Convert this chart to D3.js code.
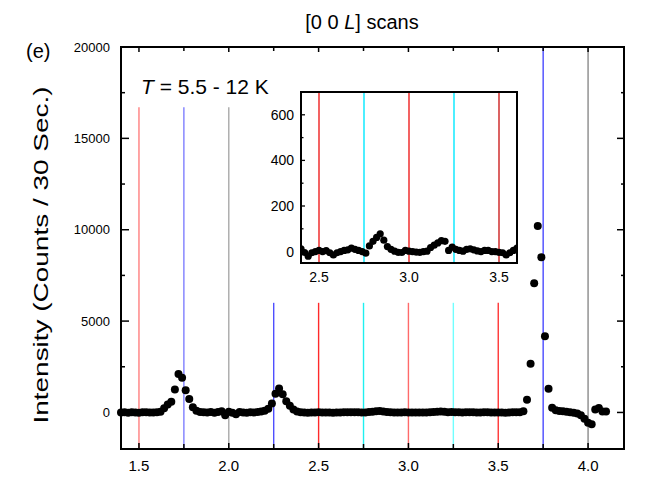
<!DOCTYPE html>
<html><head><meta charset="utf-8">
<script src="https://cdn.jsdelivr.net/npm/d3@7"></script>
<style>body{margin:0;background:#fff}svg{display:block}text{font-family:Arial,"Liberation Sans",sans-serif}</style>
</head><body><svg id="c" width="647" height="479"></svg>
<script>
// ---- data ----
const L = [1.40,1.42,1.44,1.46,1.48,1.50,1.52,1.54,1.56,1.58,1.60,1.62,1.64,1.66,1.68,1.70,1.72,1.74,1.76,1.78,
1.80,1.82,1.84,1.86,1.88,1.90,1.92,1.94,1.96,1.98,2.00,2.02,2.04,2.06,2.08,2.10,2.12,2.14,2.16,2.18,
2.20,2.22,2.24,2.26,2.28,2.30,2.32,2.34,2.36,2.38,2.40,2.42,2.44,2.46,2.48,2.50,2.52,2.54,2.56,2.58,
2.60,2.62,2.64,2.66,2.68,2.70,2.72,2.74,2.76,2.78,2.80,2.82,2.84,2.86,2.88,2.90,2.92,2.94,2.96,2.98,
3.00,3.02,3.04,3.06,3.08,3.10,3.12,3.14,3.16,3.18,3.20,3.22,3.24,3.26,3.28,3.30,3.32,3.34,3.36,3.38,
3.40,3.42,3.44,3.46,3.48,3.50,3.52,3.54,3.56,3.58,3.60,3.62,3.64,3.66,3.68,3.70,3.72,3.74,3.76,3.78,
3.80,3.82,3.84,3.86,3.88,3.90,3.92,3.94,3.96,3.98,4.00,4.02,4.04,4.06,4.08,4.10];
const counts = [0,15,-10,5,0,-10,5,10,-5,0,10,40,230,440,590,1250,2110,1900,1220,730,
280,90,30,10,0,20,-10,30,60,-150,40,-20,-100,20,0,-20,10,0,20,50,
100,200,490,1020,1310,1000,620,370,160,50,12,-4,-20,-5,0,5,0,4,-5,-15,
-5,0,5,8,15,10,5,0,-7,25,45,62,78,50,22,10,2,-3,-4,5,
2,0,-2,-3,0,2,18,28,38,48,45,5,20,10,5,2,10,12,8,3,
0,5,5,0,0,-3,-5,-15,-5,5,15,10,60,690,2670,7070,10200,8500,4170,1300,
260,120,80,60,40,10,-20,-60,-150,-350,-560,-650,160,250,50,50];

// reference lines (positions in L, top value in counts)
const refL   = [1.50, 1.75, 2.00, 2.25, 2.50, 2.75, 3.00, 3.25, 3.50, 3.75, 4.00];
const refTop = [16700,16700,16700,6000,6000,6000,6000,6000,6000,20000,20000];
const refKind = ["r1","b1","g1","b2","r2","c1","r3","c2","r4","b3","g2"];
const insetRefL = [2.50, 2.75, 3.00, 3.25, 3.50];
const insetRefKind = ["ir","ic","ir","ic","ir2"];

const xTicks = [1.5, 2.0, 2.5, 3.0, 3.5, 4.0];
const xMinor = [1.75, 2.25, 2.75, 3.25, 3.75];
const yTicks = [0, 5000, 10000, 15000, 20000];
const yMinor = [2500, 7500, 12500, 17500];
const insetXTicks = [2.5, 3.0, 3.5];
const insetYTicks = [0, 200, 400, 600];
const insetYMinor = [100, 300, 500, 700];

// ---- styles ----
const colorOf = {r1:"#ff7f7f", b1:"#7f7fff", g1:"#a9a9a9", b2:"#4f4fff", r2:"#ff2a2a", c1:"#1ef0f0",
  r3:"#ff6a6a", c2:"#70ffff", r4:"#ff3535", b3:"#4a4aff", g2:"#8a8a8a",
  ir:"#ee2020", ic:"#00e8ff", ir2:"#cc2020"};

const svg = d3.select("#c");
const M = {l:121, r:624, t:47, b:449};
const x = d3.scaleLinear().domain([1.4, 4.2]).range([M.l, M.r]);
const y = d3.scaleLinear().domain([-2000, 20000]).range([M.b, M.t]);

// reference lines
svg.append("g").selectAll("line").data(refL).join("line")
  .attr("x1", d=>x(d)).attr("x2", d=>x(d))
  .attr("y1", (d,i)=>y(refTop[i])).attr("y2", y(-2000))
  .attr("stroke", (d,i)=>colorOf[refKind[i]]).attr("stroke-width", 1.4);

// data
const pts = L.map((l,i)=>({l, c:counts[i]}));
svg.append("g").selectAll("circle").data(pts).join("circle")
  .attr("cx", d=>x(d.l)).attr("cy", d=>y(d.c)).attr("r", 4).attr("fill", "#000");

// axes (inward ticks)
const ax = svg.append("g").attr("stroke", "#000").attr("stroke-width", 1.5);
xTicks.forEach(t=>{ ax.append("line").attr("x1",x(t)).attr("x2",x(t)).attr("y1",M.b).attr("y2",M.b-6);
                    ax.append("line").attr("x1",x(t)).attr("x2",x(t)).attr("y1",M.t).attr("y2",M.t+5); });
xMinor.forEach(t=>{ ax.append("line").attr("x1",x(t)).attr("x2",x(t)).attr("y1",M.b).attr("y2",M.b-5);
                    ax.append("line").attr("x1",x(t)).attr("x2",x(t)).attr("y1",M.t).attr("y2",M.t+4); });
yTicks.forEach(t=>{ ax.append("line").attr("y1",y(t)).attr("y2",y(t)).attr("x1",M.l).attr("x2",M.l+8);
                    ax.append("line").attr("y1",y(t)).attr("y2",y(t)).attr("x1",M.r).attr("x2",M.r-7); });
yMinor.forEach(t=>{ ax.append("line").attr("y1",y(t)).attr("y2",y(t)).attr("x1",M.l).attr("x2",M.l+4);
                    ax.append("line").attr("y1",y(t)).attr("y2",y(t)).attr("x1",M.r).attr("x2",M.r-3); });
svg.append("rect").attr("x",M.l).attr("y",M.t).attr("width",M.r-M.l).attr("height",M.b-M.t)
  .attr("fill","none").attr("stroke","#000").attr("stroke-width",2);

svg.append("g").selectAll("text").data(xTicks).join("text")
  .attr("x", d=>x(d)).attr("y", M.b+22).attr("text-anchor","middle").attr("font-size",15)
  .text(d3.format(".1f"));
svg.append("g").selectAll("text").data(yTicks).join("text")
  .attr("x", M.l-11).attr("y", d=>y(d)+4.5).attr("text-anchor","end").attr("font-size",13)
  .text(d3.format("d"));

// labels
svg.append("text").attr("transform","translate(48,255) rotate(-90)").attr("text-anchor","middle")
  .attr("font-size",21).attr("textLength",337).attr("lengthAdjust","spacingAndGlyphs")
  .text("Intensity (Counts / 30 Sec.)");
const ttl = svg.append("text").attr("x",362).attr("y",29).attr("text-anchor","middle").attr("font-size",20);
ttl.append("tspan").text("[0 0 ");
ttl.append("tspan").attr("font-style","italic").text("L");
ttl.append("tspan").text("] scans");
svg.append("text").attr("x",26).attr("y",58).attr("font-size",20).text("(e)");
const tt = svg.append("text").attr("x",141).attr("y",94).attr("font-size",21);
tt.append("tspan").attr("font-style","italic").text("T");
tt.append("tspan").text(" = 5.5 - 12 K");

// ---- inset ----
const I = {l:301, r:517, t:92, b:263};
const xi = d3.scaleLinear().domain([2.4, 3.6]).range([I.l, I.r]);
const yi = d3.scaleLinear().domain([-50, 700]).range([I.b, I.t]);
const inset = svg.append("g");
inset.append("rect").attr("x",I.l).attr("y",I.t).attr("width",I.r-I.l).attr("height",I.b-I.t).attr("fill","#fff");
inset.append("clipPath").attr("id","ic").append("rect").attr("x",I.l).attr("y",I.t).attr("width",I.r-I.l).attr("height",I.b-I.t);
const ig = inset.append("g").attr("clip-path","url(#ic)");
ig.selectAll("line").data(insetRefL).join("line")
  .attr("x1", d=>xi(d)).attr("x2", d=>xi(d)).attr("y1", I.t).attr("y2", I.b)
  .attr("stroke", (d,i)=>colorOf[insetRefKind[i]]).attr("stroke-width", 1.4);
ig.selectAll("circle").data(pts.filter(d=>d.l>=2.4 && d.l<=3.6)).join("circle")
  .attr("cx", d=>xi(d.l)).attr("cy", d=>yi(d.c)).attr("r", 3.6).attr("fill","#000");
const iax = inset.append("g").attr("stroke","#000").attr("stroke-width",1.3);
insetYTicks.forEach(t=>iax.append("line").attr("y1",yi(t)).attr("y2",yi(t)).attr("x1",I.l).attr("x2",I.l+4));
insetYMinor.forEach(t=>iax.append("line").attr("y1",yi(t)).attr("y2",yi(t)).attr("x1",I.l).attr("x2",I.l+2.5));
inset.append("rect").attr("x",I.l).attr("y",I.t).attr("width",I.r-I.l).attr("height",I.b-I.t)
  .attr("fill","none").attr("stroke","#000").attr("stroke-width",2);
inset.selectAll("text.ix").data(insetXTicks).join("text").attr("class","ix")
  .attr("x", d=>xi(d)).attr("y", I.b+19).attr("text-anchor","middle").attr("font-size",14)
  .text(d3.format(".1f"));
inset.selectAll("text.iy").data(insetYTicks).join("text").attr("class","iy")
  .attr("x", I.l-7).attr("y", d=>yi(d)+5).attr("text-anchor","end").attr("font-size",14)
  .text(d3.format("d"));
</script></body></html>
